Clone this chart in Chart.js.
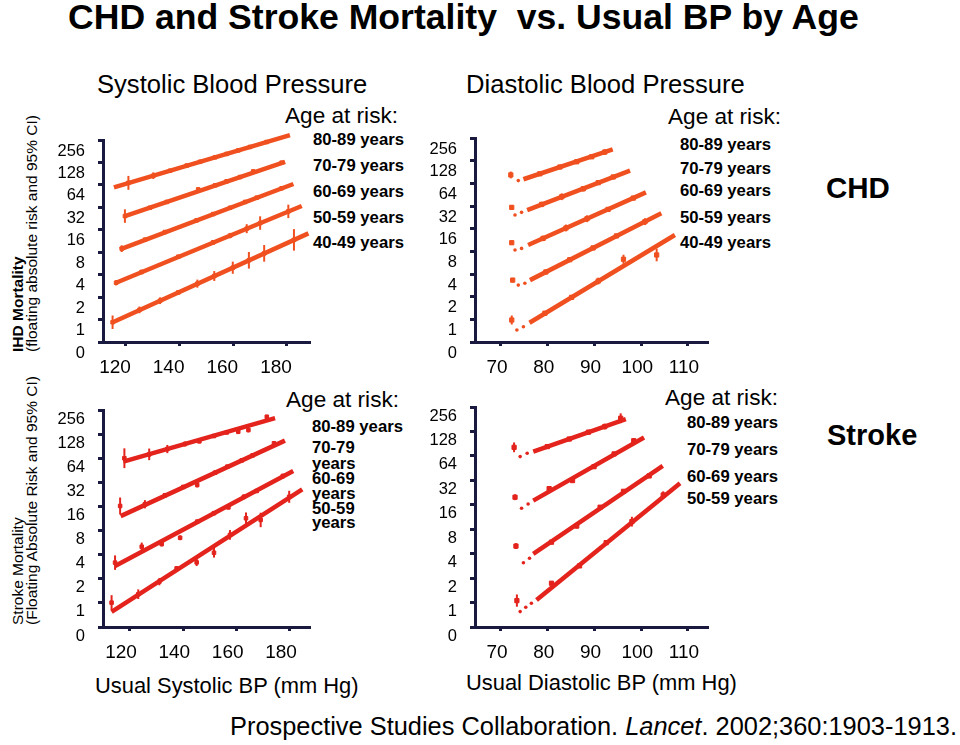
<!DOCTYPE html>
<html>
<head>
<meta charset="utf-8">
<script src="https://cdn.jsdelivr.net/npm/chart.js@4.4.1/dist/chart.umd.min.js"></script>
<style>
  body { margin:0; background:#fff; width:960px; height:745px; overflow:hidden; position:relative;
         font-family:'Liberation Sans', Arial, Helvetica, sans-serif; color:#000; }
  .t { position:absolute; white-space:nowrap; line-height:1; }
  .b { font-weight:bold; }
  .it { position:absolute; white-space:nowrap; line-height:1; font-size:16.7px; font-weight:bold; }
  .age { position:absolute; white-space:nowrap; line-height:1; font-size:22.6px; }
  .vlab { position:absolute; transform-origin:0 0; transform:rotate(-90deg); white-space:nowrap; font-size:15.5px; line-height:14px; }
  canvas { position:absolute; }
</style>
</head>
<body>

<div class="t b" style="left:68px; top:0px; font-size:35.6px;">CHD and Stroke Mortality&nbsp; vs. Usual BP by Age</div>
<div class="t" style="left:97px; top:72px; font-size:25.6px;">Systolic Blood Pressure</div>
<div class="t" style="left:466px; top:72px; font-size:25.6px;">Diastolic Blood Pressure</div>

<div class="vlab" style="left:11px; top:352px;"><b>IHD Mortality</b><br>(floating absolute risk and 95% CI)</div>
<div class="vlab" style="left:11px; top:625px;">Stroke Mortality<br>(Floating Absolute Risk and 95% CI)</div>

<div class="age" style="left:285px; top:105px;">Age at risk:</div>
<div class="it" style="left:313px; top:132px;">80-89 years</div>
<div class="it" style="left:313px; top:158px;">70-79 years</div>
<div class="it" style="left:313px; top:184px;">60-69 years</div>
<div class="it" style="left:313px; top:210px;">50-59 years</div>
<div class="it" style="left:313px; top:235px;">40-49 years</div>

<div class="age" style="left:668px; top:106px;">Age at risk:</div>
<div class="it" style="left:680px; top:137px;">80-89 years</div>
<div class="it" style="left:680px; top:161px;">70-79 years</div>
<div class="it" style="left:680px; top:183px;">60-69 years</div>
<div class="it" style="left:680px; top:210px;">50-59 years</div>
<div class="it" style="left:680px; top:235px;">40-49 years</div>
<div class="t b" style="left:826px; top:173px; font-size:29.5px;">CHD</div>

<div class="age" style="left:286px; top:389px;">Age at risk:</div>
<div class="it" style="left:312px; top:419px;">80-89 years</div>
<div class="it" style="left:312px; top:440px;">70-79</div>
<div class="it" style="left:312px; top:456px;">years</div>
<div class="it" style="left:312px; top:471px;">60-69</div>
<div class="it" style="left:312px; top:486px;">years</div>
<div class="it" style="left:312px; top:501px;">50-59</div>
<div class="it" style="left:312px; top:515px;">years</div>

<div class="age" style="left:665px; top:387px;">Age at risk:</div>
<div class="it" style="left:687px; top:415px;">80-89 years</div>
<div class="it" style="left:687px; top:442px;">70-79 years</div>
<div class="it" style="left:687px; top:469px;">60-69 years</div>
<div class="it" style="left:687px; top:491px;">50-59 years</div>
<div class="t b" style="left:827px; top:421px; font-size:29px;">Stroke</div>

<div class="t" style="left:95px; top:675px; font-size:21.9px;">Usual Systolic BP (mm Hg)</div>
<div class="t" style="left:466px; top:672px; font-size:21.9px;">Usual Diastolic BP (mm Hg)</div>
<div class="t" style="left:230px; top:714px; font-size:25.4px;">Prospective Studies Collaboration. <i>Lancet</i>. 2002;360:1903-1913.</div>

<script>
//---------------------------------------
// Data
// y values are log2 of the floating absolute risk (axis label "0" sits at -1)
//---------------------------------------
const ageGroups = ['80-89 years', '70-79 years', '60-69 years', '50-59 years', '40-49 years'];

const yTickValues = [-1, 0, 1, 2, 3, 4, 5, 6, 7, 8];
const yTickLabels = ['0', '1', '2', '4', '8', '16', '32', '64', '128', '256'];
const sbpTicks = [120, 140, 160, 180];
const sbpTickLabels = ['120', '140', '160', '180'];
const dbpTicks = [70, 80, 90, 100, 110];
const dbpTickLabels = ['70', '80', '90', '100', '110'];

// CHD, systolic
const chdSysFitX = [[115.5, 181.1], [119.6, 179.3], [117.8, 182.4], [116.3, 185.5], [115.5, 188.0]];
const chdSysFitY = [[5.89, 8.22], [4.61, 7.03], [3.13, 6.04], [1.64, 5.06], [-0.10, 3.84]];
const chdSysPtX = [
  [120.9, 130.2, 136.4, 142.6, 147.6, 153.2, 157.5, 161.9, 166.2, 172.4],
  [119.6, 128.9, 135.2, 146.9, 153.2, 157.5, 162.5, 167.4, 178.0],
  [118.4, 127.1, 134.5, 146.3, 152.5, 158.8, 164.4, 168.7, 178.0],
  [116.3, 125.8, 139.5, 152.5, 158.8, 165.0, 170.0, 180.5],
  [115.0, 125.0, 132.7, 139.5, 146.6, 152.9, 159.8, 165.8, 171.5, 182.6]
];
const chdSysPtY = [
  [6.09, 6.41, 6.63, 6.86, 7.03, 7.23, 7.38, 7.54, 7.69, 7.91],
  [4.61, 4.98, 5.24, 5.80, 5.98, 6.16, 6.35, 6.60, 6.99],
  [3.16, 3.56, 3.90, 4.42, 4.70, 4.98, 5.24, 5.43, 5.85],
  [1.64, 2.12, 2.80, 3.44, 3.74, 4.05, 4.30, 4.82],
  [-0.12, 0.43, 0.84, 1.21, 1.60, 1.94, 2.31, 2.64, 2.95, 3.55]
];
const chdSysPtErr = [
  [0.31, 0.15, 0.08, 0.08, 0.06, 0.06, 0.06, 0.06, 0.06, 0.06],
  [0.30, 0.08, 0.06, 0.08, 0.06, 0.06, 0.06, 0.08, 0.06],
  [0.15, 0.08, 0.06, 0.06, 0.06, 0.06, 0.06, 0.06, 0.08],
  [0.12, 0.10, 0.08, 0.10, 0.12, 0.20, 0.30, 0.30],
  [0.30, 0.15, 0.15, 0.10, 0.18, 0.22, 0.27, 0.37, 0.37, 0.48]
];

// CHD, diastolic
const chdDiaFitX = [[74.8, 93.9], [75.6, 97.6], [75.8, 101.0], [76.2, 104.3], [76.1, 107.2]];
const chdDiaFitY = [[6.18, 7.50], [4.82, 6.56], [3.28, 5.60], [1.73, 4.68], [-0.15, 3.72]];
const chdDiaDotX = [[73.7], [73.0, 74.4], [73.0, 74.4], [73.7, 75.1], [73.4, 74.8]];
const chdDiaDotY = [[6.12], [4.60, 4.72], [3.06, 3.13], [1.51, 1.59], [-0.47, -0.33]];
const chdDiaPtX = [
  [72.1, 78.3, 82.6, 86.2, 89.4, 92.2],
  [72.3, 78.7, 83.0, 87.6, 90.8, 94.0],
  [72.3, 79.0, 83.9, 88.4, 92.9, 98.3],
  [72.5, 79.6, 84.7, 89.7, 94.7, 100.8],
  [72.3, 79.4, 85.1, 90.8, 96.2, 103.3]
];
const chdDiaPtY = [
  [6.37, 6.42, 6.72, 6.95, 7.17, 7.38],
  [4.94, 5.07, 5.41, 5.76, 6.03, 6.28],
  [3.38, 3.57, 4.03, 4.44, 4.85, 5.35],
  [1.73, 2.09, 2.63, 3.15, 3.68, 4.31],
  [-0.03, 0.27, 0.97, 1.69, 2.65, 2.84]
];
const chdDiaPtErr = [
  [0.15, 0.06, 0.08, 0.06, 0.06, 0.12],
  [0.10, 0.12, 0.15, 0.12, 0.06, 0.06],
  [0.10, 0.12, 0.15, 0.15, 0.06, 0.06],
  [0.10, 0.10, 0.10, 0.06, 0.06, 0.15],
  [0.20, 0.10, 0.10, 0.15, 0.20, 0.28]
];

// Stroke, systolic
const strSysFitX = [[117.5, 174.4], [116.5, 178.1], [114.4, 181.2], [113.1, 184.6]];
const strSysFitY = [[5.86, 7.66], [3.60, 6.73], [1.53, 5.47], [-0.37, 4.71]];
const strSysPtX = [
  [117.9, 127.2, 134.0, 140.6, 146.0, 151.5, 156.3, 160.6, 164.4, 171.3],
  [116.3, 125.6, 133.1, 140.0, 145.2, 151.9, 156.5, 161.9, 166.0, 174.0],
  [114.4, 124.4, 131.9, 138.8, 145.2, 151.5, 156.9, 162.7, 167.5, 177.3],
  [113.1, 123.1, 131.0, 137.5, 145.0, 151.5, 157.5, 163.5, 169.0, 179.7]
];
const strSysPtY = [
  [6.00, 6.16, 6.38, 6.59, 6.70, 6.92, 7.07, 7.10, 7.17, 7.72],
  [4.02, 4.09, 4.46, 4.81, 4.89, 5.40, 5.65, 5.91, 6.12, 6.62],
  [1.67, 2.33, 2.44, 2.70, 3.37, 3.72, 3.96, 4.40, 4.64, 5.26],
  [0.01, 0.36, 0.88, 1.43, 1.68, 2.08, 2.82, 3.51, 3.44, 4.40]
];
const strSysPtErr = [
  [0.41, 0.24, 0.17, 0.10, 0.08, 0.08, 0.08, 0.10, 0.10, 0.08],
  [0.35, 0.17, 0.10, 0.08, 0.10, 0.08, 0.08, 0.08, 0.08, 0.08],
  [0.30, 0.17, 0.10, 0.10, 0.08, 0.08, 0.08, 0.10, 0.08, 0.10],
  [0.31, 0.20, 0.15, 0.10, 0.15, 0.20, 0.20, 0.24, 0.30, 0.25]
];

// Stroke, diastolic
const strDiaFitX = [[76.9, 96.7], [76.9, 100.6], [76.9, 104.6], [77.6, 108.3]];
const strDiaFitY = [[6.17, 7.50], [4.17, 6.75], [1.99, 5.59], [0.10, 4.88]];
const strDiaDotX = [[74.1, 75.6], [74.4, 75.8], [74.8, 76.1], [74.1, 75.3, 76.5]];
const strDiaDotY = [[5.97, 6.11], [3.86, 4.03], [1.63, 1.81], [-0.37, -0.19, -0.03]];
const strDiaPtX = [
  [72.8, 79.9, 84.6, 88.7, 92.2, 95.6],
  [73.0, 80.3, 85.3, 89.9, 94.2, 98.4],
  [73.2, 80.8, 86.2, 91.2, 96.2, 101.7],
  [73.4, 80.8, 86.8, 92.5, 98.0, 104.7]
];
const strDiaPtY = [
  [6.35, 6.38, 6.69, 6.97, 7.20, 7.54],
  [4.31, 4.66, 4.99, 5.56, 6.08, 6.62],
  [2.31, 2.47, 3.13, 3.90, 4.55, 5.18],
  [0.08, 0.79, 1.50, 2.45, 3.31, 4.40]
];
const strDiaPtErr = [
  [0.20, 0.06, 0.08, 0.10, 0.12, 0.20],
  [0.12, 0.08, 0.08, 0.08, 0.06, 0.10],
  [0.12, 0.08, 0.10, 0.06, 0.06, 0.08],
  [0.25, 0.06, 0.08, 0.06, 0.20, 0.15]
];

//---------------------------------------
// Style
//---------------------------------------
const FONT = "'Liberation Sans', Arial, Helvetica, sans-serif";
const AXIS_COLOR = '#1a1a40';
const CHD_COLOR = '#f0501f';
const STROKE_COLOR = '#e3231c';

Chart.defaults.font.family = FONT;
Chart.defaults.color = '#000';

// vertical 95% CI bars, drawn through the y scale
const errBarPlugin = {
  id: 'errBars',
  afterDatasetsDraw(chart) {
    const ctx = chart.ctx;
    const ys = chart.scales.y;
    chart.data.datasets.forEach((ds, i) => {
      if (!ds.errBars) return;
      const meta = chart.getDatasetMeta(i);
      ctx.save();
      ctx.strokeStyle = ds.borderColor;
      ctx.lineWidth = 2;
      meta.data.forEach((pt, j) => {
        const v = ds.data[j].y, e = ds.errBars[j];
        ctx.beginPath();
        ctx.moveTo(pt.x, ys.getPixelForValue(v - e));
        ctx.lineTo(pt.x, ys.getPixelForValue(v + e));
        ctx.stroke();
      });
      ctx.restore();
    });
  }
};

//---------------------------------------
// Panels (area = chart area in page px: left, top, right, bottom)
//---------------------------------------
const panels = [
  { area: [103, 140, 310, 342], xRange: [111.43, 188.58], xTicks: sbpTicks, xLabels: sbpTickLabels,
    xOff: -11, yOff: 11, color: CHD_COLOR, pr: 2.5,
    fitX: chdSysFitX, fitY: chdSysFitY, ptX: chdSysPtX, ptY: chdSysPtY, ptErr: chdSysPtErr },
  { area: [475, 138, 708, 342], xRange: [64.44, 114.28], xTicks: dbpTicks, xLabels: dbpTickLabels,
    xOff: -4, yOff: 11, color: CHD_COLOR, pr: 3,
    fitX: chdDiaFitX, fitY: chdDiaFitY, ptX: chdDiaPtX, ptY: chdDiaPtY, ptErr: chdDiaPtErr,
    dotX: chdDiaDotX, dotY: chdDiaDotY },
  { area: [103, 410, 310, 627], xRange: [109.88, 187.5], xTicks: sbpTicks, xLabels: sbpTickLabels,
    xOff: -9, yOff: 9, color: STROKE_COLOR, pr: 2.5,
    fitX: strSysFitX, fitY: strSysFitY, ptX: strSysPtX, ptY: strSysPtY, ptErr: strSysPtErr },
  { area: [475, 407, 708, 627], xRange: [64.44, 114.28], xTicks: dbpTicks, xLabels: dbpTickLabels,
    xOff: -4, yOff: 9, color: STROKE_COLOR, pr: 3,
    fitX: strDiaFitX, fitY: strDiaFitY, ptX: strDiaPtX, ptY: strDiaPtY, ptErr: strDiaPtErr,
    dotX: strDiaDotX, dotY: strDiaDotY }
];

function buildDatasets(p) {
  const ds = [];
  for (let g = 0; g < p.fitX.length; g++) {
    ds.push({
      label: ageGroups[g] + ' fit', showLine: true,
      data: p.fitX[g].map((x, k) => ({ x: x, y: p.fitY[g][k] })),
      borderColor: p.color, borderWidth: 4.5, pointRadius: 0, clip: false
    });
    ds.push({
      label: ageGroups[g],
      data: p.ptX[g].map((x, k) => ({ x: x, y: p.ptY[g][k] })),
      errBars: p.ptErr[g],
      pointStyle: 'rect', pointRadius: p.pr, borderWidth: 1,
      backgroundColor: p.color, borderColor: p.color, clip: false
    });
    if (p.dotX) {
      ds.push({
        label: ageGroups[g] + ' extrapolation',
        data: p.dotX[g].map((x, k) => ({ x: x, y: p.dotY[g][k] })),
        pointStyle: 'circle', pointRadius: 1.8, borderWidth: 0,
        backgroundColor: p.color, borderColor: p.color, clip: false
      });
    }
  }
  return ds;
}

function axisCommon(tickLen) {
  return {
    border: { display: true, color: AXIS_COLOR, width: 3 },
    grid: { drawOnChartArea: false, drawTicks: true, tickLength: tickLen, tickWidth: 3, tickColor: AXIS_COLOR }
  };
}

panels.forEach((p, n) => {
  const [l, t, r, b] = p.area;
  const canvas = document.createElement('canvas');
  canvas.width = r - l + 90;
  canvas.height = b - t + 75;
  canvas.style.left = (l - 70) + 'px';
  canvas.style.top = (t - 30) + 'px';
  document.body.appendChild(canvas);

  new Chart(canvas, {
    type: 'scatter',
    data: { datasets: buildDatasets(p) },
    options: {
      responsive: false,
      animation: false,
      devicePixelRatio: 1,
      layout: { padding: { left: 0, top: 30, right: 20, bottom: 0 } },
      plugins: { legend: { display: false }, tooltip: { enabled: false } },
      scales: {
        x: Object.assign(axisCommon(4), {
          type: 'linear', min: p.xRange[0], max: p.xRange[1],
          afterBuildTicks: a => { a.ticks = p.xTicks.map(v => ({ value: v })); },
          afterFit: s => { s.height = 45; },
          ticks: { autoSkip: false, maxRotation: 0, padding: 10, labelOffset: p.xOff,
                   color: '#000', font: { size: 19 }, callback: (v, i) => p.xLabels[i] }
        }),
        y: Object.assign(axisCommon(5), {
          type: 'linear', min: -1, max: 8,
          afterBuildTicks: a => { a.ticks = yTickValues.map(v => ({ value: v })); },
          afterFit: s => { s.width = 70; },
          ticks: { autoSkip: false, padding: 13, labelOffset: p.yOff,
                   color: '#000', font: { size: 16.5 }, callback: (v, i) => yTickLabels[i] }
        })
      }
    },
    plugins: [errBarPlugin]
  });
});
</script>
</body>
</html>
